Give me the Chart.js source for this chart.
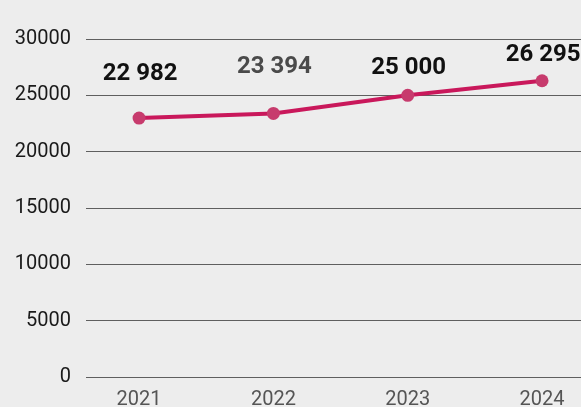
<!DOCTYPE html>
<html>
<head>
<meta charset="utf-8">
<script src="https://cdn.jsdelivr.net/npm/chart.js@4/dist/chart.umd.min.js"></script>
<style>
  html, body { margin: 0; padding: 0; background: #ededed; overflow: hidden; }
  canvas { display: block; }
</style>
</head>
<body>
<canvas id="yearChart" width="581" height="423"></canvas>
<script>
// yearly totals
const years = [2021, 2022, 2023, 2024];
const totals = [22982, 23394, 25000, 26295];
const valueLabels = ['22 982', '23 394', '25 000', '26 295'];
const yTicks = [0, 5000, 10000, 15000, 20000, 25000, 30000];

// label styling per point (colour, lift above the marker in px)
const labelColors = ['#111111', '#4a4a4a', '#111111', '#111111'];
const labelLift = [44, 46, 27, 26];

const LINE_COLOR = '#c9185b';
const POINT_COLOR = '#c73b6d';

// draws the bold value above each point
const valueLabelPlugin = {
  id: 'valueLabels',
  afterDatasetsDraw(chart) {
    const c = chart.ctx;
    const meta = chart.getDatasetMeta(0);
    c.save();
    c.font = 'bold 24px Roboto';
    c.textAlign = 'center';
    c.textBaseline = 'middle';
    meta.data.forEach((pt, i) => {
      c.fillStyle = labelColors[i];
      c.fillText(valueLabels[i], pt.x + 1, pt.y - labelLift[i]);
    });
    c.restore();
  }
};

new Chart(document.getElementById('yearChart'), {
  type: 'line',
  data: {
    datasets: [{
      data: years.map((y, i) => ({ x: y, y: totals[i] })),
      borderColor: LINE_COLOR,
      borderWidth: 4,
      pointBackgroundColor: POINT_COLOR,
      pointBorderWidth: 0,
      pointRadius: 6.5,
      tension: 0,
      clip: false
    }]
  },
  options: {
    responsive: false,
    animation: false,
    layout: { autoPadding: false, padding: { top: 39, left: 0, right: 0, bottom: 0 } },
    plugins: { legend: { display: false }, tooltip: { enabled: false } },
    scales: {
      x: {
        type: 'linear',
        min: 2020.605,
        max: 2024.29,
        grid: { display: false, drawTicks: false },
        border: { display: false },
        afterBuildTicks: s => { s.ticks = years.map(v => ({ value: v })); },
        // keep the plot running to the right edge
        afterFit: s => { s.paddingLeft = 0; s.paddingRight = 0; },
        ticks: {
          padding: 11,
          color: '#555555',
          font: { family: 'Roboto', size: 20 },
          callback: v => String(v)
        }
      },
      y: {
        min: 0,
        max: 30000,
        afterFit: s => { s.width = 86; s.paddingTop = 0; s.paddingBottom = 0; },
        afterBuildTicks: s => { s.ticks = yTicks.map(v => ({ value: v })); },
        grid: { color: '#5f5f5f', lineWidth: 1, drawTicks: false },
        border: { display: false },
        ticks: {
          padding: 15,
          color: '#1a1a1a',
          font: { family: 'Roboto', size: 20 },
          callback: v => String(v)
        }
      }
    }
  },
  plugins: [valueLabelPlugin]
});
</script>
</body>
</html>
